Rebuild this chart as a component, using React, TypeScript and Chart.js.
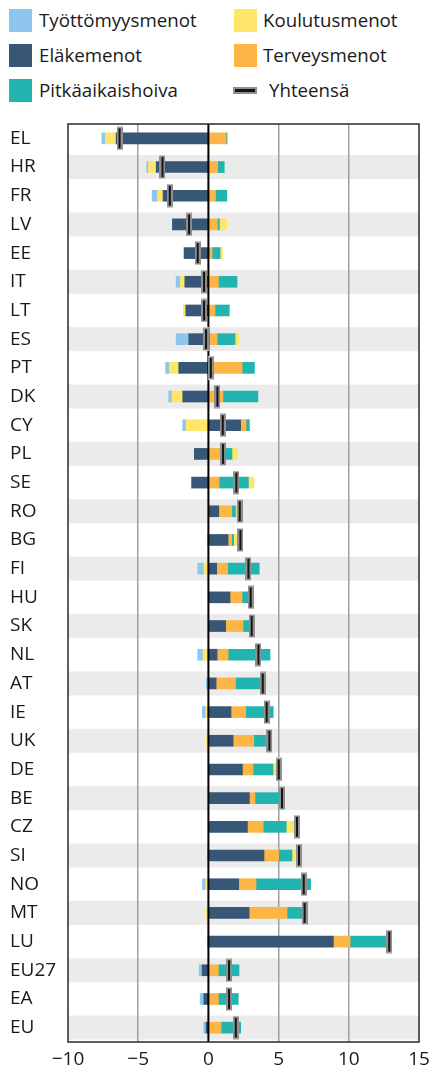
import React, { useEffect, useRef } from 'react';
import { Chart, registerables } from 'chart.js';

Chart.register(...registerables);

const categories = ['EL', 'HR', 'FR', 'LV', 'EE', 'IT', 'LT', 'ES', 'PT', 'DK', 'CY', 'PL', 'SE', 'RO', 'BG', 'FI', 'HU', 'SK', 'NL', 'AT', 'IE', 'UK', 'DE', 'BE', 'CZ', 'SI', 'NO', 'MT', 'LU', 'EU27', 'EA', 'EU'];

const elakemenot = [-6.57, -3.72, -3.23, -2.56, -1.73, -1.68, -1.61, -1.40, -2.11, -1.83, 2.30, -1.00, -1.19, 0.74, 1.40, 0.59, 1.54, 1.23, 0.62, 0.55, 1.61, 1.76, 2.42, 2.92, 2.78, 3.96, 2.16, 2.90, 8.90, -0.45, -0.33, -0.17];
const terveysmenot = [1.26, 0.66, 0.50, 0.64, 0.26, 0.71, 0.47, 0.62, 2.40, 1.04, 0.38, 0.83, 0.76, 0.93, 0.26, 0.78, 0.85, 1.23, 0.78, 1.38, 1.04, 1.47, 0.76, 0.40, 1.12, 1.04, 1.23, 2.70, 1.19, 0.71, 0.71, 0.90];
const pitkaaikaishoiva = [0.07, 0.47, 0.81, 0.14, 0.57, 1.33, 1.02, 1.28, 0.88, 2.49, 0.24, 0.85, 2.09, 0.26, 0.14, 2.25, 0.45, 0.45, 2.99, 1.78, 1.97, 0.97, 1.42, 1.73, 1.64, 0.95, 3.89, 1.07, 2.68, 1.47, 1.42, 1.40];
const koulutusmenot = [-0.76, -0.55, -0.40, 0.52, 0.17, -0.31, -0.14, 0.26, -0.66, -0.76, -1.59, 0.38, 0.40, 0.07, 0.28, -0.33, 0, 0, -0.38, 0, -0.19, -0.14, 0.21, 0, 0.59, 0.24, -0.21, -0.15, 0, 0, 0, 0];
const tyottomyysmenot = [-0.26, -0.12, -0.38, 0, 0, -0.31, 0, -0.90, -0.28, -0.24, -0.24, 0, 0, 0, -0.07, -0.43, 0, 0, -0.38, -0.14, -0.24, 0, 0, 0, 0, -0.07, -0.21, 0, -0.07, -0.21, -0.26, -0.17];
const yhteensa = [-6.33, -3.27, -2.75, -1.38, -0.76, -0.31, -0.31, -0.17, 0.17, 0.64, 1.02, 1.04, 1.99, 2.23, 2.28, 2.85, 3.01, 3.08, 3.56, 3.87, 4.15, 4.34, 5.01, 5.24, 6.31, 6.45, 6.79, 6.85, 12.88, 1.47, 1.47, 1.95];

const xMin = -10;
const xMax = 15;
const xStep = 5;

const COLORS = {
  tyottomyys: '#8ec6ee',
  koulutus: '#ffe66b',
  elake: '#385675',
  terveys: '#fdb646',
  pitka: '#22b4ae',
};

const FONT = '"Open Sans", "Noto Sans", sans-serif';

const legendItems = [
  { label: 'Työttömyysmenot', color: COLORS.tyottomyys, col: 0, row: 0 },
  { label: 'Koulutusmenot', color: COLORS.koulutus, col: 1, row: 0 },
  { label: 'Eläkemenot', color: COLORS.elake, col: 0, row: 1 },
  { label: 'Terveysmenot', color: COLORS.terveys, col: 1, row: 1 },
  { label: 'Pitkäaikaishoiva', color: COLORS.pitka, col: 0, row: 2 },
  { label: 'Yhteensä', color: null, col: 1, row: 2 },
];

function makeMarker() {
  const c = document.createElement('canvas');
  c.width = 6;
  c.height = 24;
  const g = c.getContext('2d')!;
  g.fillStyle = '#8f8f8f';
  g.fillRect(0, 0, 6, 24);
  g.fillStyle = '#c8c8c8';
  g.fillRect(0, 0, 6, 1);
  g.fillRect(0, 23, 6, 1);
  g.fillStyle = '#151515';
  g.fillRect(2, 2, 2, 20);
  return c;
}

const decoPlugin = {
  id: 'deco',
  beforeDraw(chart: any) {
    const { ctx, chartArea, scales } = chart;
    const y = scales.y;
    ctx.save();
    ctx.fillStyle = '#ebebeb';
    categories.forEach((_, i) => {
      if (i % 2 === 1) {
        const yc = y.getPixelForValue(i);
        ctx.fillRect(chartArea.left, yc - 12, chartArea.right - chartArea.left, 24);
      }
    });
    ctx.restore();
  },
  beforeDatasetDraw(chart: any, args: any) {
    if (args.index !== 5) return;
    const { ctx, chartArea, scales } = chart;
    const x0 = scales.x.getPixelForValue(0);
    ctx.save();
    ctx.strokeStyle = '#000';
    ctx.lineWidth = 2;
    ctx.beginPath();
    ctx.moveTo(x0, chartArea.top);
    ctx.lineTo(x0, chartArea.bottom);
    ctx.stroke();
    ctx.restore();
  },
  afterDraw(chart: any) {
    const { ctx, chartArea } = chart;
    ctx.save();
    ctx.strokeStyle = '#2a2a2a';
    ctx.lineWidth = 1.5;
    ctx.strokeRect(chartArea.left, chartArea.top, chartArea.right - chartArea.left, chartArea.bottom - chartArea.top);
    ctx.restore();
  },
};

export default function App() {
  const ref = useRef<HTMLCanvasElement | null>(null);

  useEffect(() => {
    if (!ref.current) return;
    const marker = makeMarker();
    const barDs = (label: string, data: number[], color: string) => ({
      type: 'bar' as const,
      label,
      data,
      backgroundColor: color,
      borderWidth: 0,
      barThickness: 11,
      order: 1,
    });
    const chart = new Chart(ref.current, {
      type: 'bar',
      data: {
        labels: categories,
        datasets: [
          barDs('Eläkemenot', elakemenot, COLORS.elake),
          barDs('Terveysmenot', terveysmenot, COLORS.terveys),
          barDs('Pitkäaikaishoiva', pitkaaikaishoiva, COLORS.pitka),
          barDs('Koulutusmenot', koulutusmenot, COLORS.koulutus),
          barDs('Työttömyysmenot', tyottomyysmenot, COLORS.tyottomyys),
          {
            type: 'line' as const,
            label: 'Yhteensä',
            data: yhteensa,
            showLine: false,
            pointStyle: marker as any,
            pointRadius: 3,
            pointHoverRadius: 3,
            order: 0,
          } as any,
        ],
      },
      options: {
        indexAxis: 'y',
        animation: false,
        responsive: false,
        maintainAspectRatio: false,
        layout: { padding: { top: 16, right: 12, left: 10, bottom: 0 } },
        plugins: {
          legend: { display: false },
          tooltip: { enabled: false },
        },
        scales: {
          x: {
            type: 'linear',
            stacked: true,
            min: xMin,
            max: xMax,
            afterFit: (s: any) => {
              s.height = 27;
              s.paddingLeft = 0;
              s.paddingRight = 0;
            },
            ticks: {
              stepSize: xStep,
              padding: 6,
              color: '#1a1a1a',
              font: { family: FONT, size: 19 },
              callback: (v: any) => (Number(v) < 0 ? '\u2212' + Math.abs(Number(v)) : String(v)),
            },
            grid: {
              drawTicks: false,
              lineWidth: 1.5,
              color: (c: any) => {
                const v = c.tick ? c.tick.value : null;
                if (v === 0 || v === xMin || v === xMax) return 'rgba(0,0,0,0)';
                return '#a0a0a0';
              },
            },
            border: { display: false },
          },
          y: {
            type: 'category',
            stacked: true,
            afterFit: (s: any) => {
              s.width = 58;
              s.paddingTop = 0;
              s.paddingBottom = 0;
            },
            ticks: {
              crossAlign: 'far',
              padding: 2,
              color: '#1a1a1a',
              font: { family: FONT, size: 19 },
            },
            grid: { display: false, drawTicks: false },
            border: { display: false },
          },
        },
      },
      plugins: [decoPlugin],
    });
    return () => chart.destroy();
  }, []);

  return (
    <div style={{ position: 'absolute', left: 0, top: 0, width: 431, height: 1069, background: '#fff', fontFamily: FONT, color: '#1a1a1a' }}>
      {legendItems.map((it) => {
        const cy = 20 + it.row * 35;
        const boxX = it.col === 0 ? 9 : 234;
        const textX = it.col === 0 ? 39 : (it.color ? 263 : 269);
        return (
          <div key={it.label}>
            {it.color ? (
              <div style={{ position: 'absolute', left: boxX, top: cy - 11.5, width: 23, height: 23, background: it.color }} />
            ) : (
              <div style={{ position: 'absolute', left: 233, top: cy - 3.5, width: 20, height: 3, background: '#151515', border: '2px solid #8f8f8f' }} />
            )}
            <div style={{ position: 'absolute', left: textX, top: cy - 13, height: 26, lineHeight: '26px', fontSize: 18.7, whiteSpace: 'nowrap' }}>
              {it.label}
            </div>
          </div>
        );
      })}
      <canvas ref={ref} width={431} height={961} style={{ position: 'absolute', left: 0, top: 108, width: 431, height: 961 }} />
    </div>
  );
}
